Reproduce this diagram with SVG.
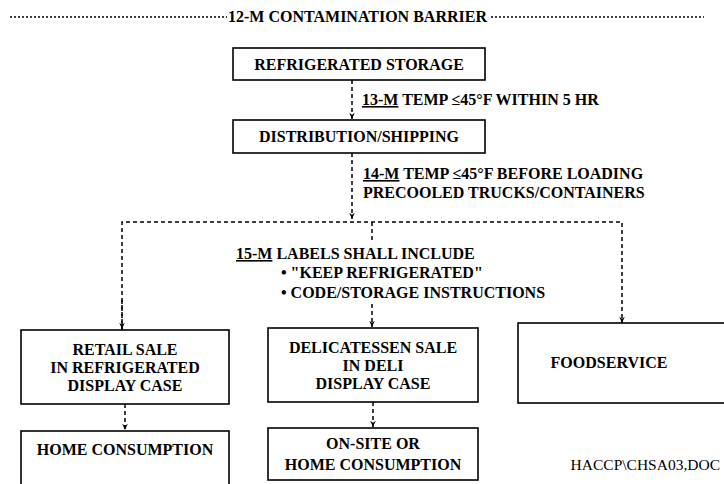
<svg xmlns="http://www.w3.org/2000/svg" width="724" height="484" viewBox="0 0 724 484">
<defs>
<marker id="ah" viewBox="0 0 10 10" refX="9" refY="5" markerWidth="7" markerHeight="7" orient="auto" markerUnits="userSpaceOnUse">
<path d="M0,1 L9,5 L0,9 L3,5 Z" fill="#000"/>
</marker>
<style>
text{font-family:"Liberation Serif","Times New Roman",serif;font-weight:bold;font-size:16px;fill:#000}
.c{text-anchor:middle}
.n{font-weight:normal;font-size:15.5px}
.box{fill:#fff;stroke:#000;stroke-width:1.6}
.dash{fill:none;stroke:#000;stroke-width:1.5;stroke-dasharray:4 3}
.dot{fill:none;stroke:#000;stroke-width:1.5;stroke-dasharray:2 2}
</style>
</defs>
<rect width="724" height="484" fill="#fff"/>

<g id="barrier">
<line class="dot" x1="10" y1="17" x2="227" y2="17"/>
<line class="dot" x1="491" y1="17" x2="704" y2="17"/>
<text x="228" y="22">12-M CONTAMINATION BARRIER</text>
</g>

<g id="connectors">
<line class="dash" x1="352" y1="80" x2="352" y2="119" marker-end="url(#ah)"/>
<line class="dash" x1="352" y1="153" x2="352" y2="219" marker-end="url(#ah)"/>
<polyline class="dash" points="122,330 122,222 622,222 622,323" marker-end="url(#ah)"/>
<line class="dash" x1="122" y1="300" x2="122" y2="329" marker-end="url(#ah)"/>
<line class="dash" x1="372" y1="222" x2="372" y2="240"/>
<line class="dash" x1="372" y1="304" x2="372" y2="327" marker-end="url(#ah)"/>
<line class="dash" x1="125" y1="404" x2="125" y2="430" marker-end="url(#ah)"/>
<line class="dash" x1="373" y1="402" x2="373" y2="427" marker-end="url(#ah)"/>
</g>

<g id="lbl13">
<text x="362" y="105"><tspan text-decoration="underline">13-M</tspan> TEMP ≤45°F WITHIN 5 HR</text>
</g>
<g id="lbl14">
<text x="363" y="179"><tspan text-decoration="underline">14-M</tspan> TEMP ≤45°F BEFORE LOADING</text>
<text x="363" y="198">PRECOOLED TRUCKS/CONTAINERS</text>
</g>
<g id="lbl15">
<text x="236" y="259"><tspan text-decoration="underline">15-M</tspan> LABELS SHALL INCLUDE</text>
<text x="281" y="278">• "KEEP REFRIGERATED"</text>
<text x="281" y="298">• CODE/STORAGE INSTRUCTIONS</text>
</g>

<g id="storage">
<rect class="box" x="233" y="48" width="252" height="32"/>
<text class="c" x="359" y="70">REFRIGERATED STORAGE</text>
</g>
<g id="distribution">
<rect class="box" x="233" y="120" width="252" height="33"/>
<text class="c" x="359" y="142">DISTRIBUTION/SHIPPING</text>
</g>
<g id="retail">
<rect class="box" x="21" y="330" width="208" height="74"/>
<text class="c" x="125" y="355">RETAIL SALE</text>
<text class="c" x="125" y="373">IN REFRIGERATED</text>
<text class="c" x="125" y="391">DISPLAY CASE</text>
</g>
<g id="deli">
<rect class="box" x="268" y="328" width="210" height="74"/>
<text class="c" x="373" y="353">DELICATESSEN SALE</text>
<text class="c" x="373" y="371">IN DELI</text>
<text class="c" x="373" y="389">DISPLAY CASE</text>
</g>
<g id="foodservice">
<rect class="box" x="518" y="323" width="215" height="80"/>
<text class="c" x="609" y="368">FOODSERVICE</text>
</g>
<g id="home">
<rect class="box" x="21" y="431" width="208" height="60"/>
<text class="c" x="125" y="455">HOME CONSUMPTION</text>
</g>
<g id="onsite">
<rect class="box" x="268" y="428" width="210" height="52"/>
<text class="c" x="373" y="449">ON-SITE OR</text>
<text class="c" x="373" y="470">HOME CONSUMPTION</text>
</g>
<g id="note">
<text x="720" y="470" class="n" text-anchor="end">HACCP\CHSA03,DOC</text>
</g>
</svg>
